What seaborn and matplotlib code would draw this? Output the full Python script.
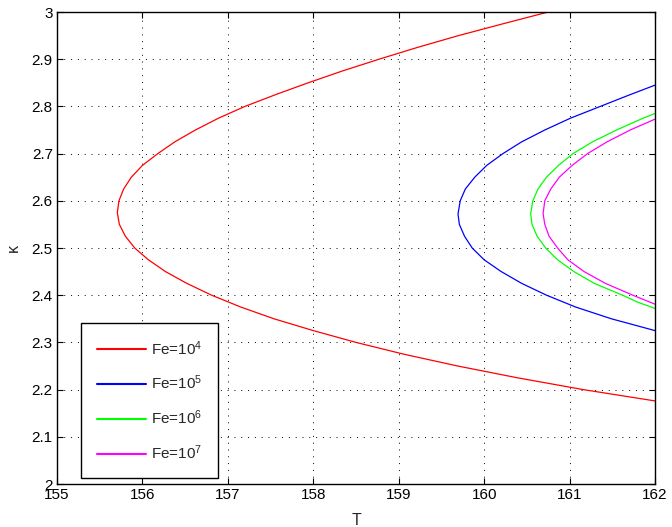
import matplotlib
matplotlib.use("Agg")
import matplotlib.pyplot as plt
import seaborn as sns
import pandas as pd

# ---- data (kappa vs T) ----
kappa_fe4 = [3.000, 2.975, 2.950, 2.925, 2.900, 2.875, 2.850, 2.825, 2.800, 2.775, 2.750,
             2.725, 2.700, 2.675, 2.650, 2.625, 2.600, 2.575, 2.550, 2.525, 2.500, 2.475,
             2.450, 2.425, 2.400, 2.375, 2.350, 2.325, 2.300, 2.275, 2.250, 2.225, 2.200,
             2.176]
T_fe4 = [160.75, 160.22, 159.70, 159.22, 158.77, 158.34, 157.94, 157.56, 157.20, 156.89, 156.62,
         156.38, 156.18, 156.00, 155.87, 155.78, 155.725, 155.706, 155.73, 155.80, 155.91, 156.07,
         156.27, 156.52, 156.81, 157.15, 157.54, 158.00, 158.50, 159.06, 159.69, 160.39, 161.16,
         162.0]

kappa_fe5 = [2.845, 2.825, 2.800, 2.775, 2.750, 2.725, 2.700, 2.675, 2.650, 2.625, 2.600,
             2.572, 2.550, 2.525, 2.500, 2.475, 2.450, 2.425, 2.400, 2.375, 2.350, 2.325]
T_fe5 = [162.0, 161.71, 161.36, 161.01, 160.71, 160.44, 160.22, 160.03, 159.89, 159.78, 159.72,
         159.694, 159.71, 159.77, 159.86, 160.00, 160.20, 160.44, 160.73, 161.07, 161.49, 162.0]

kappa_fe6 = [2.785, 2.775, 2.750, 2.725, 2.700, 2.675, 2.650, 2.625, 2.600, 2.573, 2.550,
             2.525, 2.500, 2.475, 2.450, 2.425, 2.400, 2.385, 2.372]
T_fe6 = [162.0, 161.86, 161.55, 161.27, 161.04, 160.87, 160.73, 160.63, 160.57, 160.545, 160.56,
         160.62, 160.72, 160.86, 161.05, 161.29, 161.62, 161.80, 162.0]

kappa_fe7 = [2.773, 2.750, 2.725, 2.700, 2.675, 2.650, 2.625, 2.600, 2.573, 2.550, 2.525,
             2.500, 2.475, 2.450, 2.425, 2.400, 2.381]
T_fe7 = [162.0, 161.71, 161.44, 161.21, 161.03, 160.88, 160.78, 160.71, 160.69, 160.71, 160.76,
         160.86, 160.98, 161.17, 161.42, 161.74, 162.0]

labels = ["Fe=10$^4$", "Fe=10$^5$", "Fe=10$^6$", "Fe=10$^7$"]
colors = ["#ff0000", "#0000ff", "#00ff00", "#ff00ff"]

x_ticks = [155, 156, 157, 158, 159, 160, 161, 162]
y_ticks = [2.0, 2.1, 2.2, 2.3, 2.4, 2.5, 2.6, 2.7, 2.8, 2.9, 3.0]
y_tick_labels = ["2", "2.1", "2.2", "2.3", "2.4", "2.5", "2.6", "2.7", "2.8", "2.9", "3"]

# ---- style ----
sns.set_style("ticks")
plt.rcParams["font.family"] = ["Liberation Sans", "DejaVu Sans"]
plt.rcParams["mathtext.fontset"] = "custom"
plt.rcParams["mathtext.rm"] = "Liberation Sans"
plt.rcParams["mathtext.it"] = "Liberation Sans:italic"
plt.rcParams["mathtext.bf"] = "Liberation Sans:bold"

fig = plt.figure(figsize=(6.72, 5.27), dpi=100)
ax = fig.add_axes([57 / 672, 43 / 527, 598 / 672, 472 / 527])

series = [(kappa_fe4, T_fe4), (kappa_fe5, T_fe5), (kappa_fe6, T_fe6), (kappa_fe7, T_fe7)]
for (k, t), lab, c in zip(series, labels, colors):
    df = pd.DataFrame({"T": t, "kappa": k})
    sns.lineplot(data=df, x="T", y="kappa", sort=False, estimator=None,
                 color=c, linewidth=0.9, label=lab, ax=ax)

ax.set_xlim(155, 162)
ax.set_ylim(2, 3)
ax.set_xticks(x_ticks)
ax.set_xticklabels([str(v) for v in x_ticks])
ax.set_yticks(y_ticks)
ax.set_yticklabels(y_tick_labels)
ax.tick_params(direction="in", top=True, right=True, length=4, width=0.8,
               labelsize=11, colors="black", pad=3)
ax.grid(True, linestyle=(0, (1, 6)), color="black", linewidth=0.7)
for s in ax.spines.values():
    s.set_visible(True)
    s.set_color("black")
    s.set_linewidth(1.0)

ax.set_xlabel("T", fontsize=11.5, labelpad=8)
ax.set_ylabel("κ", fontsize=11.5, labelpad=8)

leg = ax.legend(loc="lower left", bbox_to_anchor=(24 / 598, 6 / 472), borderaxespad=0,
                fontsize=11, handlelength=3.2, handletextpad=0.33, labelspacing=1.06,
                borderpad=1.05, fancybox=False, framealpha=1, edgecolor="black")
leg.get_frame().set_linewidth(1.0)
for h in leg.get_lines():
    h.set_linewidth(1.5)

fig.savefig("out.png", dpi=100)
